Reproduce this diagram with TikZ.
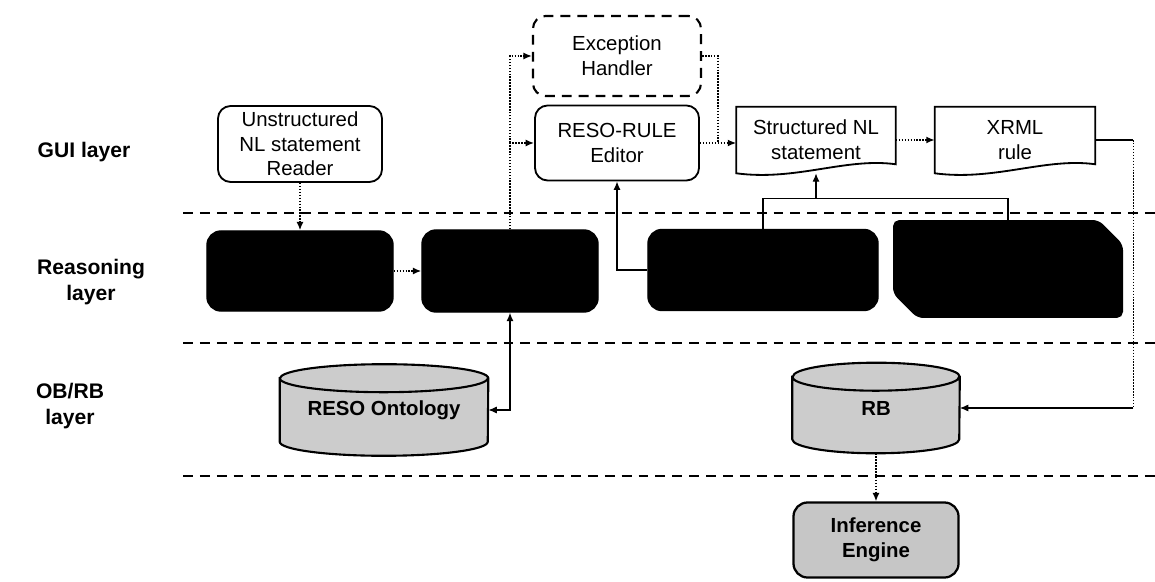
\documentclass[tikz,border=0pt]{standalone}
\usepackage{fontspec}
\setmainfont{Liberation Sans}
\usetikzlibrary{arrows.meta,positioning,calc}
\pgfdeclarelayer{background}
\pgfsetlayers{background,main}

\begin{document}
\begin{tikzpicture}[
  x=0.025cm, y=-0.025cm,
  >={Latex[length=6pt,width=5pt]},
  layer/.style={align=center, font=\fontsize{15}{18}\selectfont\bfseries},
  guibox/.style={rectangle, rounded corners=9pt, draw=black, line width=1.3pt, align=center, inner sep=2pt, font=\fontsize{14.5}{17.5}\selectfont},
  excbox/.style={guibox, line width=1.5pt, dash pattern=on 7pt off 5pt},
  docbox/.style={rectangle, align=center, inner sep=2pt, font=\fontsize{14.5}{17.5}\selectfont},
  docshape/.style={draw=black, fill=white, line width=1.3pt},
  darkbox/.style={rectangle, rounded corners=10pt, draw=black, fill=black, line width=1pt},
  darkshape/.style={draw=black, fill=black, line width=1pt},
  dbnode/.style={rectangle, align=center, inner sep=0pt, font=\fontsize{14.5}{17.5}\selectfont\bfseries},
  dbshape/.style={draw=black, fill=gray!40, line width=1.5pt},
  engbox/.style={guibox, fill=gray!45, line width=1.6pt, rounded corners=10pt, font=\fontsize{14.5}{17.5}\selectfont\bfseries},
  dotline/.style={densely dotted, line width=1.1pt},
  solidline/.style={line width=0.9pt},
  layerline/.style={line width=1.3pt, dash pattern=on 7pt off 5pt}
]
\useasboundingbox (0,0) rectangle (1155,582);

% layer names
\node[layer] (guilabel) at (84,152) {GUI layer};
\node[layer] (reslabel) at (91,282) {Reasoning\\layer};
\node[layer] (oblabel) at (70,406) {OB/RB\\layer};

% layer borders
\draw[layerline] (183,213) -- (1155,213);
\draw[layerline] (183,343) -- (1155,343);
\draw[layerline] (183,476) -- (1155,476);

% GUI layer
\node[guibox, minimum width=4.1cm, minimum height=1.9cm] (reader) at (300,144) {Unstructured\\NL statement\\Reader};
\node[excbox, minimum width=4.2cm, minimum height=2cm] (exc) at (617,56) {Exception\\Handler};
\node[guibox, minimum width=4.1cm, minimum height=1.875cm] (editor) at (617,143) {RESO-RULE\\Editor};
\node[docbox, minimum width=3.975cm, minimum height=1.65cm] (snl) at (816,140) {Structured NL\\statement};
\node[docbox, minimum width=4cm, minimum height=1.65cm] (xrml) at (1015,140) {XRML\\rule};

% reasoning layer
\node[darkbox, minimum width=4.65cm, minimum height=2cm] (rsn1) at (300,271) {};
\node[darkbox, minimum width=4.4cm, minimum height=2.05cm] (rsn2) at (510,271) {};
\node[darkbox, minimum width=5.75cm, minimum height=2.025cm] (rsn3) at (763,270) {};
\node[rectangle, minimum width=5.7cm, minimum height=2.4cm] (rsn4) at (1008,269) {};

% OB/RB layer
\node[dbnode, minimum width=5.2cm, minimum height=2.275cm] (onto) at (384,410) {RESO Ontology};
\node[dbnode, minimum width=4.175cm, minimum height=2.25cm] (rb) at (876,408) {RB};
\node[engbox, minimum width=4.125cm, minimum height=1.875cm] (engine) at (876,540) {Inference\\Engine};

\begin{pgfonlayer}{background}
  \foreach \doc in {snl,xrml}
    \filldraw[docshape] (\doc.north west) -- (\doc.north east) -- ($(\doc.south east)+(0,-9)$)
      .. controls ($(\doc.south east)+(-50,-16)$) and ($(\doc.south west)+(60,8)$) .. (\doc.south west) -- cycle;
  \filldraw[darkshape, rounded corners=4pt] (rsn4.north west) -- ($(rsn4.north east)+(-24,0)$) -- ($(rsn4.north east)+(0,24)$)
    -- (rsn4.south east) -- ($(rsn4.south west)+(24,0)$) -- ($(rsn4.south west)+(0,-24)$) -- cycle;
  \foreach \db/\rx in {onto/2.6cm,rb/2.0875cm}
    \filldraw[dbshape] ($(\db.north west)+(0,14)$) -- ($(\db.south west)+(0,-14)$)
      arc[start angle=180, end angle=360, x radius=\rx, y radius=0.35cm] -- ($(\db.north east)+(0,14)$)
      arc[start angle=0, end angle=180, x radius=\rx, y radius=0.35cm] -- cycle
      ($(\db.north west)+(0,14)$) arc[start angle=180, end angle=360, x radius=\rx, y radius=0.35cm];
\end{pgfonlayer}

% connectors
\draw[dotline,->] (reader) -- (rsn1);
\draw[dotline,->] (rsn1) -- (rsn2);
\draw[dotline,->] (rsn2.north) |- (editor.west);
\draw[dotline,->] (rsn2.north |- editor.west) |- (exc.west);
\draw[dotline,->] (editor.east) -- (editor.east -| snl.west);
\draw[dotline] (exc.east) -| ($(editor.east)!0.5!(editor.east -| snl.west)$);
\draw[dotline,->] (snl.east) -- (xrml.west);

\path (xrml.east) ++(38,0) coordinate (xturn);
\coordinate (rbturn) at (xturn |- rb.east);
\draw[solidline] (xrml.east) -- (xturn);
\draw[dotline] (xturn) -- (rbturn);
\draw[solidline,->] (rbturn) -- (rb.east);

\coordinate (bus) at ($(rsn3.north)+(0,-30)$);
\draw[solidline] (rsn3.north) -- (bus) -| (rsn4.north);
\draw[solidline,->] (bus -| snl.south) -- (snl.south);
\draw[solidline,->] (rsn3.west) -| (editor.south);
\draw[solidline,<->] (rsn2.south) |- (onto.east);
\draw[dotline,->] (rb.south) -- (engine.north);
\end{tikzpicture}
\end{document}
